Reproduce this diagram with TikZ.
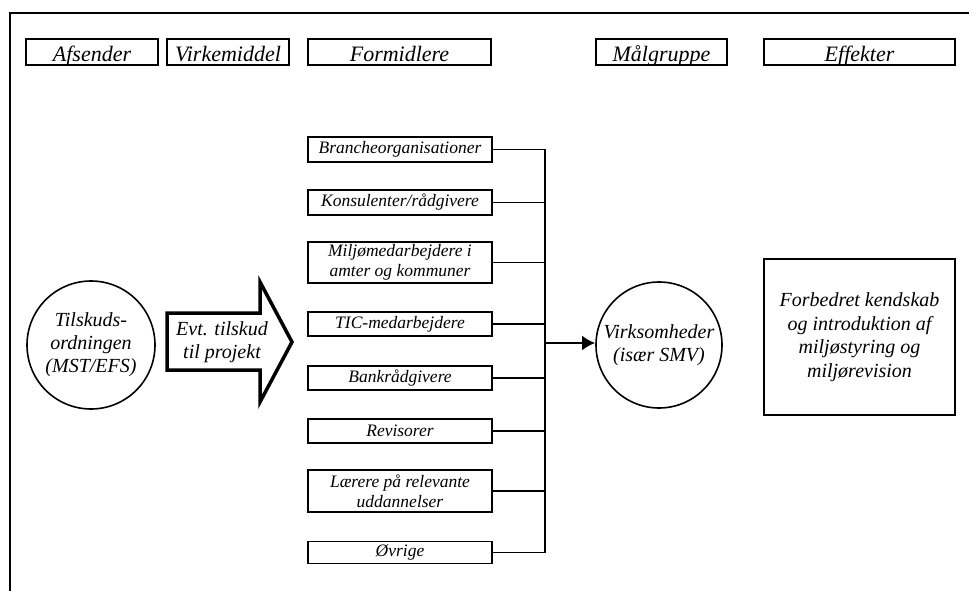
\documentclass[tikz,border=0pt]{standalone}
\usepackage{fontspec}
\setmainfont{Liberation Serif}
\usetikzlibrary{arrows.meta}
\tikzset{
  boks/.style = {rectangle, draw=black, line width=1.6pt, inner sep=0pt, align=center},
  % column headings: text sits low in the box
  hoved/.style = {boks, minimum height=26pt, text height=20pt, text depth=0pt, font=\fontsize{22}{26}\selectfont\itshape},
  formidler/.style = {boks, minimum width=184pt, font=\fontsize{17.5}{20}\selectfont\itshape},
  rund/.style = {circle, draw=black, line width=1.6pt, inner sep=0pt, align=center, font=\fontsize{20}{23}\selectfont\itshape},
  tekst/.style = {align=center, inner sep=0pt, font=\fontsize{20}{23}\selectfont\itshape},
  forbind/.style = {line width=1.6pt}
}

\begin{document}
\begin{tikzpicture}[x=1pt,y=-1pt,>={Latex[length=13pt,width=15pt]}]
    \useasboundingbox (0,0) rectangle (969,591);
    % Frame:
    \draw [line width=2.5pt] (969,13) -- (10,13) -- (10,591);
    % Headings:
    \node [hoved, minimum width=132pt] (hAfs)  at (92,52)    {Afsender};
    \node [hoved, minimum width=122pt] (hVirk) at (228,52)   {Virkemiddel};
    \node [hoved, minimum width=183pt] (hForm) at (399.5,52) {Formidlere};
    \node [hoved, minimum width=131pt] (hMaal) at (661.5,52) {Målgruppe};
    \node [hoved, minimum width=191pt] (hEff)  at (859.5,52) {Effekter};
    % Sender:
    \node [rund, minimum size=128pt] (tilskud) at (91,345) {Tilskuds-\\ordningen\\(MST/EFS)};
    % Instrument - big arrow:
    \draw [line width=3.5pt, line join=miter] (167,313) -- (260,313) -- (260,282) -- (292,342)
        -- (260,402) -- (260,370) -- (167,370) -- cycle;
    \node [tekst] (evt) at (222,342) {Evt. tilskud\\til projekt};
    % Intermediaries:
    \node [formidler, minimum height=25pt] (f1) at (400,149.5) {Brancheorganisationer};
    \node [formidler, minimum height=25pt] (f2) at (400,202.5) {Konsulenter/rådgivere};
    \node [formidler, minimum height=41pt] (f3) at (400,262.5) {Miljømedarbejdere i\\amter og kommuner};
    \node [formidler, minimum height=24pt] (f4) at (400,324)   {TIC-medarbejdere};
    \node [formidler, minimum height=24pt] (f5) at (400,378)   {Bankrådgivere};
    \node [formidler, minimum height=24pt] (f6) at (400,431)   {Revisorer};
    \node [formidler, minimum height=42pt] (f7) at (400,491)   {Lærere på relevante\\uddannelser};
    \node [formidler, minimum height=22pt] (f8) at (400,552.5) {Øvrige};
    % Target group and effects:
    \node [rund, minimum size=126pt] (virk) at (659,345) {Virksomheder\\(især SMV)};
    \node [boks, minimum width=191pt, minimum height=156pt, font=\fontsize{20}{23.5}\selectfont\itshape] (effekt)
        at (859.5,337) {Forbedret kendskab\\og introduktion af\\miljøstyring og\\miljørevision};
    % Collecting line:
    \coordinate (bus) at (545,343);
    \draw [forbind] (f1.east) -- (f1.east -| bus);
    \draw [forbind] (f2.east) -- (f2.east -| bus);
    \draw [forbind] (f3.east) -- (f3.east -| bus);
    \draw [forbind] (f4.east) -- (f4.east -| bus);
    \draw [forbind] (f5.east) -- (f5.east -| bus);
    \draw [forbind] (f6.east) -- (f6.east -| bus);
    \draw [forbind] (f7.east) -- (f7.east -| bus);
    \draw [forbind] (f8.east) -- (f8.east -| bus);
    \draw [forbind] (f1.east -| bus) -- (f8.east -| bus);
    \draw [line width=2.6pt, ->] (bus) -- (bus -| virk.west);
\end{tikzpicture}
\end{document}
